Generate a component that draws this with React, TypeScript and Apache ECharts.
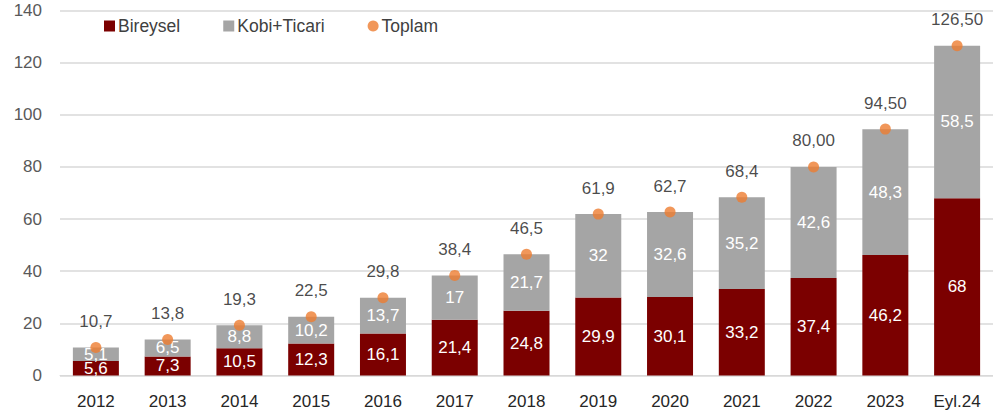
import React, { useEffect, useRef } from "react";
import * as echarts from "echarts";

const categories = ["2012","2013","2014","2015","2016","2017","2018","2019","2020","2021","2022","2023","Eyl.24"];
const bireysel = [5.6,7.3,10.5,12.3,16.1,21.4,24.8,29.9,30.1,33.2,37.4,46.2,68];
const kobiTicari = [5.1,6.5,8.8,10.2,13.7,17,21.7,32,32.6,35.2,42.6,48.3,58.5];
const toplam = [10.7,13.8,19.3,22.5,29.8,38.4,46.5,61.9,62.7,68.4,80.0,94.5,126.5];
const toplamLabels = ["10,7","13,8","19,3","22,5","29,8","38,4","46,5","61,9","62,7","68,4","80,00","94,50","126,50"];
const yTicks = [0,20,40,60,80,100,120,140];

const FONT = "'Liberation Sans', Arial, sans-serif";
const fmt = (v: number) => String(v).replace(".", ",");

export default function App() {
  const ref = useRef<HTMLDivElement>(null);
  useEffect(() => {
    const chart = echarts.init(ref.current!, null, { renderer: "svg" });
    chart.setOption({
      animation: false,
      textStyle: { fontFamily: FONT },
      legend: {
        left: 99,
        top: 12,
        itemGap: 43,
        itemWidth: 11,
        itemHeight: 11,
        textStyle: { fontSize: 17.5, color: "#404040", fontFamily: FONT, padding: [0, 0, 0, -2] },
        data: [
          { name: "Bireysel", icon: "rect" },
          { name: "Kobi+Ticari", icon: "rect" },
          { name: "Toplam", icon: "circle" },
        ],
      },
      grid: { left: 60, right: -9, top: 10.5, bottom: 43.5 },
      xAxis: {
        type: "category",
        data: categories,
        axisTick: { show: false },
        axisLine: { lineStyle: { color: "#D9D9D9", width: 1 } },
        axisLabel: { fontSize: 17, color: "#262626", margin: 17, fontFamily: FONT },
      },
      yAxis: {
        type: "value",
        min: yTicks[0],
        max: yTicks[yTicks.length - 1],
        interval: 20,
        axisLabel: { fontSize: 17, color: "#595959", margin: 18, fontFamily: FONT },
        splitLine: { lineStyle: { color: "#D9D9D9", width: 1.5 } },
        axisLine: { show: false },
        axisTick: { show: false },
      },
      series: [
        {
          name: "Bireysel",
          type: "bar",
          stack: "total",
          barWidth: 46,
          data: bireysel,
          itemStyle: { color: "#7B0000" },
          label: { show: true, position: "inside", color: "#fff", fontSize: 17, fontFamily: FONT, formatter: (p: any) => fmt(p.value) },
        },
        {
          name: "Kobi+Ticari",
          type: "bar",
          stack: "total",
          barWidth: 46,
          data: kobiTicari,
          itemStyle: { color: "#A5A5A5" },
          label: { show: true, position: "inside", color: "#fff", fontSize: 17, fontFamily: FONT, formatter: (p: any) => fmt(p.value) },
        },
        {
          name: "Toplam",
          type: "scatter",
          data: toplam,
          symbolSize: 11,
          itemStyle: { color: "#ED7D31" },
          z: 5,
          label: {
            show: true,
            position: "top",
            distance: 12,
            color: "#1a1a1a",
            fontSize: 17,
            fontFamily: FONT,
            formatter: (p: any) => toplamLabels[p.dataIndex],
          },
        },
      ],
    });
    return () => chart.dispose();
  }, []);
  return <div ref={ref} style={{ position: "absolute", left: 0, top: 0, width: 993, height: 419 }} />;
}
